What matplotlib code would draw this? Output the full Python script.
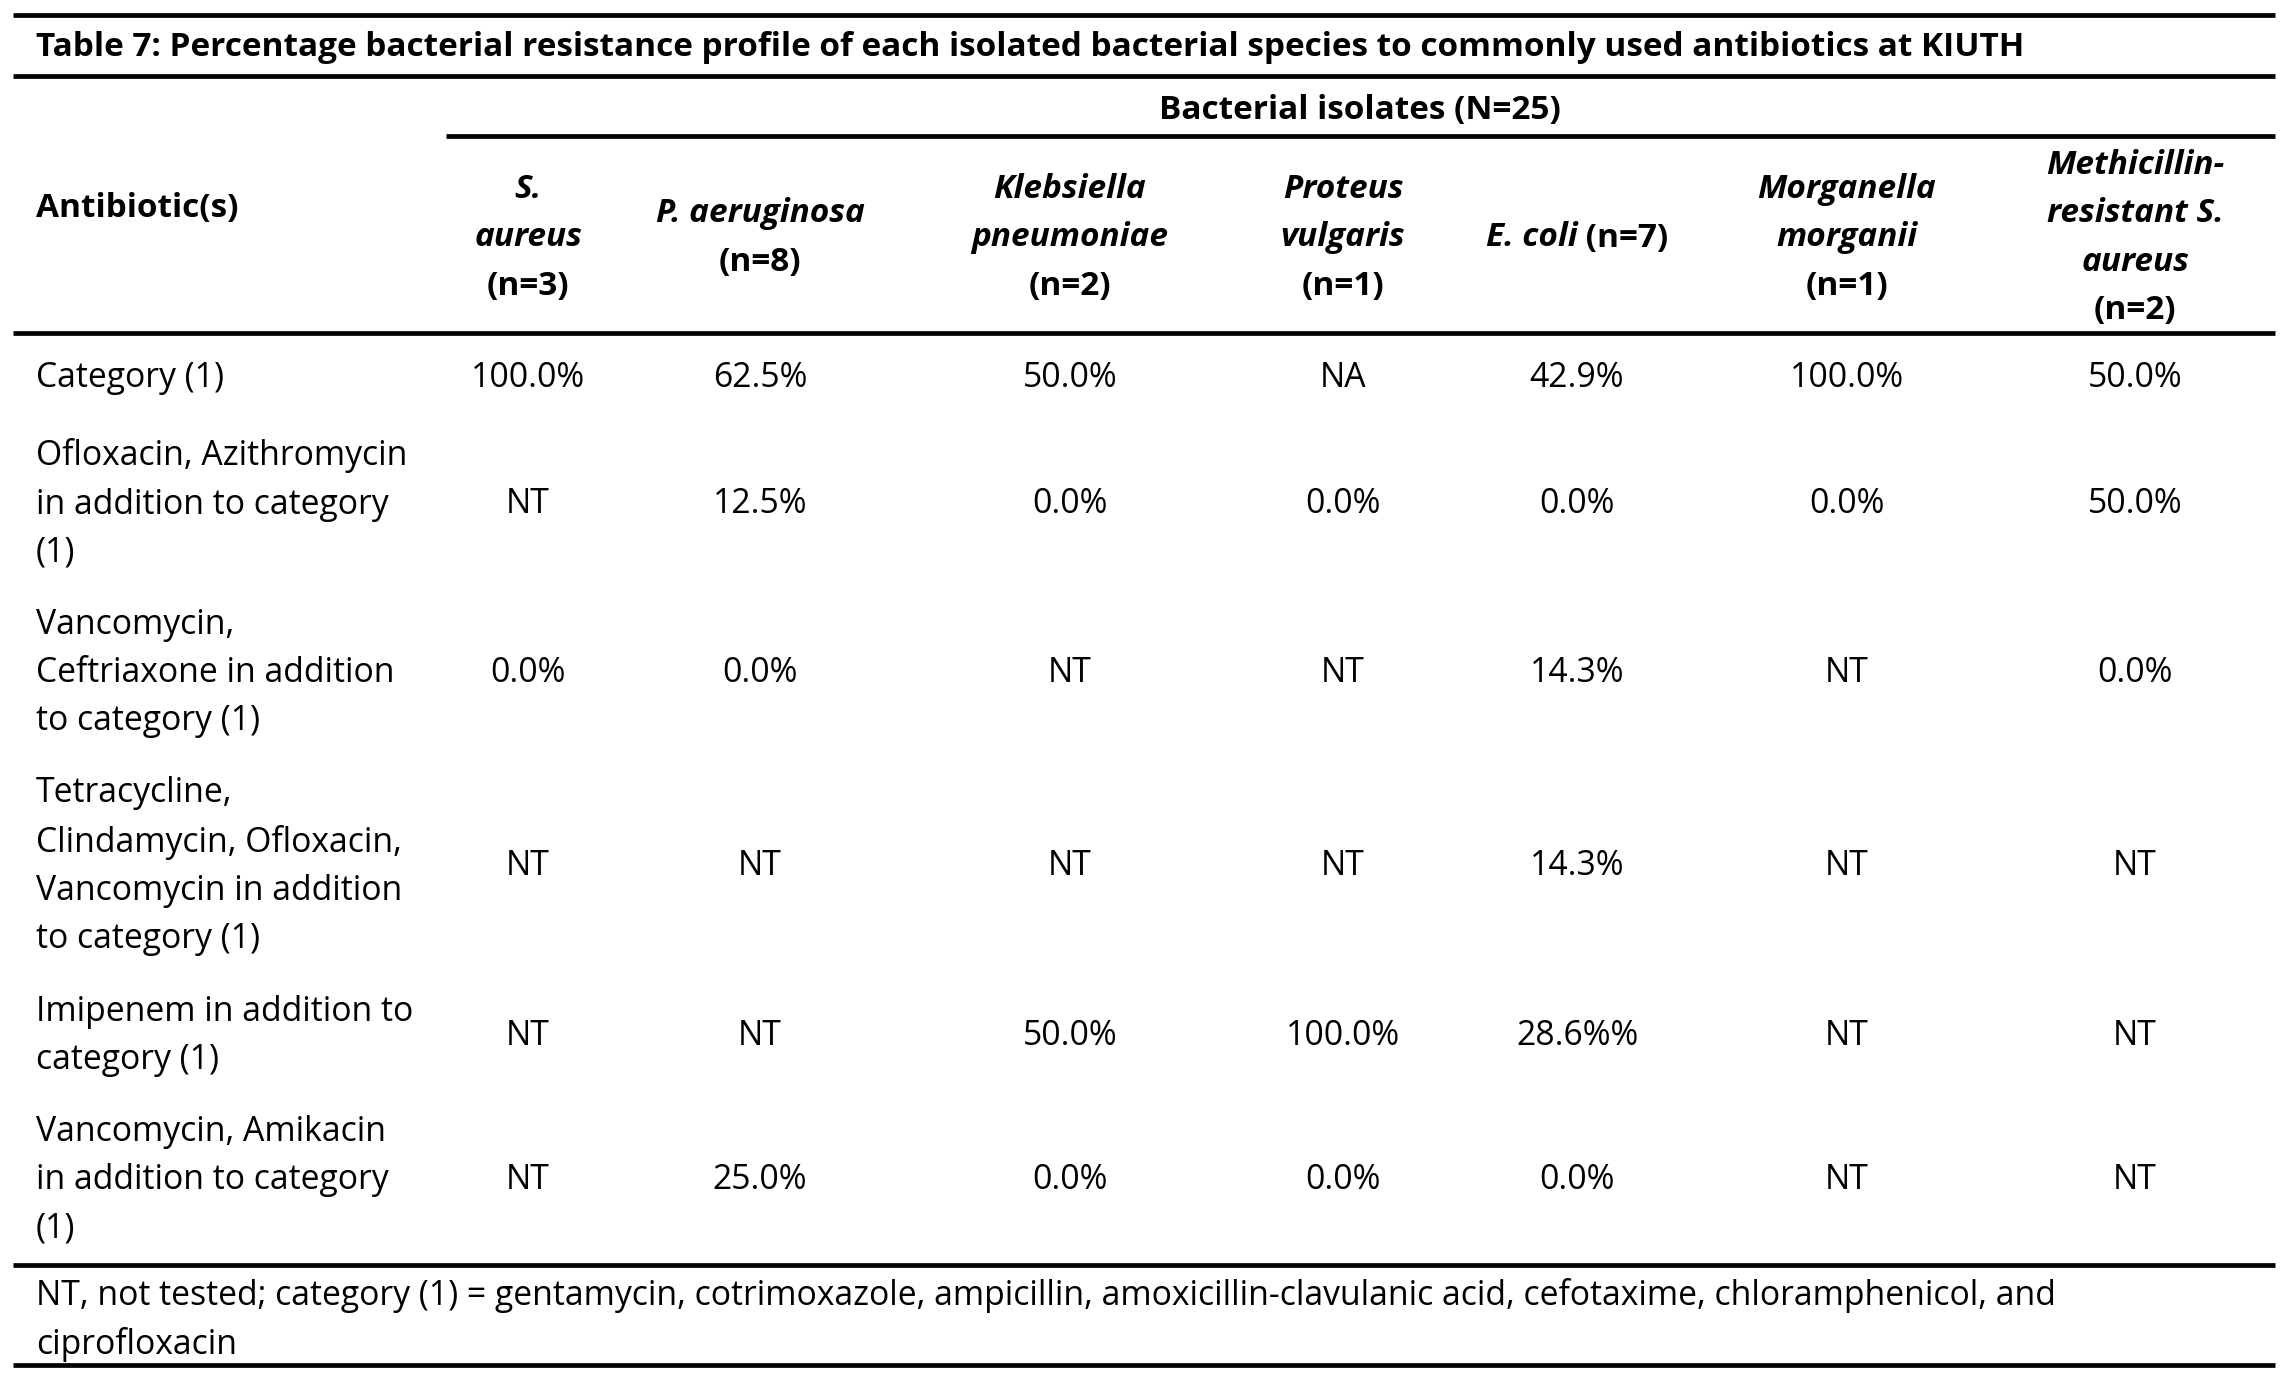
import matplotlib.pyplot as plt

plt.rcParams['font.family'] = ['Open Sans', 'DejaVu Sans']

title = "Table 7: Percentage bacterial resistance profile of each isolated bacterial species to commonly used antibiotics at KIUTH"
group_label = "Bacterial isolates (N=25)"
first_col = "Antibiotic(s)"

# column headers: (italic name lines, count label)
species = [
    (["S.", "aureus"], "(n=3)"),
    (["P. aeruginosa"], "(n=8)"),
    (["Klebsiella", "pneumoniae"], "(n=2)"),
    (["Proteus", "vulgaris"], "(n=1)"),
    (["E. coli"], "(n=7)"),
    (["Morganella", "morganii"], "(n=1)"),
    (["Methicillin-", "resistant S.", "aureus"], "(n=2)"),
]

antibiotics = [
    "Category (1)",
    "Ofloxacin, Azithromycin\nin addition to category\n(1)",
    "Vancomycin,\nCeftriaxone in addition\nto category (1)",
    "Tetracycline,\nClindamycin, Ofloxacin,\nVancomycin in addition\nto category (1)",
    "Imipenem in addition to\ncategory (1)",
    "Vancomycin, Amikacin\nin addition to category\n(1)",
]

s_aureus = ["100.0%", "NT", "0.0%", "NT", "NT", "NT"]
p_aeruginosa = ["62.5%", "12.5%", "0.0%", "NT", "NT", "25.0%"]
klebsiella = ["50.0%", "0.0%", "NT", "NT", "50.0%", "0.0%"]
proteus = ["NA", "0.0%", "NT", "NT", "100.0%", "0.0%"]
e_coli = ["42.9%", "0.0%", "14.3%", "14.3%", "28.6%%", "0.0%"]
morganella = ["100.0%", "0.0%", "NT", "NT", "NT", "NT"]
mrsa = ["50.0%", "50.0%", "0.0%", "NT", "NT", "NT"]
values = [s_aureus, p_aeruginosa, klebsiella, proteus, e_coli, morganella, mrsa]

footnote = ("NT, not tested; category (1) = gentamycin, cotrimoxazole, ampicillin, "
            "amoxicillin-clavulanic acid, cefotaxime, chloramphenicol, and\nciprofloxacin")

# layout (pixel coordinates)
W, H = 2286, 1376
fs = 24.3
fs_b = 24.0
lh = 48.5
col_x = [528, 760, 1070, 1343, 1577, 1847, 2135]
row_y = [378, 504, 673, 866, 1036, 1180]
left = 36
ls = 1.55

fig = plt.figure(figsize=(W / 100, H / 100), dpi=100)
ax = fig.add_axes([0, 0, 1, 1])
ax.set_xlim(0, W)
ax.set_ylim(H, 0)
ax.axis('off')

for y in [15, 76, 333, 1265, 1365]:
    ax.plot([13, 2275], [y, y], color='black', lw=3.4, solid_capstyle='butt')
ax.plot([446, 2275], [136, 136], color='black', lw=3.4, solid_capstyle='butt')

ax.text(left, 48, title, fontsize=fs_b, fontweight='bold', va='center', ha='left')
ax.text(1360, 110, group_label, fontsize=fs_b, fontweight='bold', va='center', ha='center')
ax.text(left, 208, first_col, fontsize=fs_b, fontweight='bold', va='center', ha='left')

head_mid = 238
renderer = fig.canvas.get_renderer()
for x, (names, count) in zip(col_x, species):
    if len(names) == 1 and names[0] == "E. coli":
        t1 = ax.text(0, head_mid, names[0], fontsize=fs_b, fontweight='bold', style='italic',
                     va='center', ha='left')
        t2 = ax.text(0, head_mid, " " + count, fontsize=fs_b, fontweight='bold',
                     va='center', ha='left')
        w1 = t1.get_window_extent(renderer).width
        w2 = t2.get_window_extent(renderer).width
        x0 = x - (w1 + w2) / 2
        t1.set_x(x0)
        t2.set_x(x0 + w1)
        continue
    n = len(names) + 1
    ys = [head_mid + (i - (n - 1) / 2) * lh for i in range(n)]
    for yy, name in zip(ys[:-1], names):
        ax.text(x, yy, name, fontsize=fs_b, fontweight='bold', style='italic',
                va='center', ha='center')
    ax.text(x, ys[-1], count, fontsize=fs_b, fontweight='bold', va='center', ha='center')

for y, label in zip(row_y, antibiotics):
    ax.text(left, y, label, fontsize=fs, va='center', ha='left', linespacing=ls)

for x, col in zip(col_x, values):
    for y, v in zip(row_y, col):
        ax.text(x, y, v, fontsize=fs, va='center', ha='center')

ax.text(left, 1320, footnote, fontsize=fs, va='center', ha='left', linespacing=ls)

fig.savefig("out.png", dpi=100)
